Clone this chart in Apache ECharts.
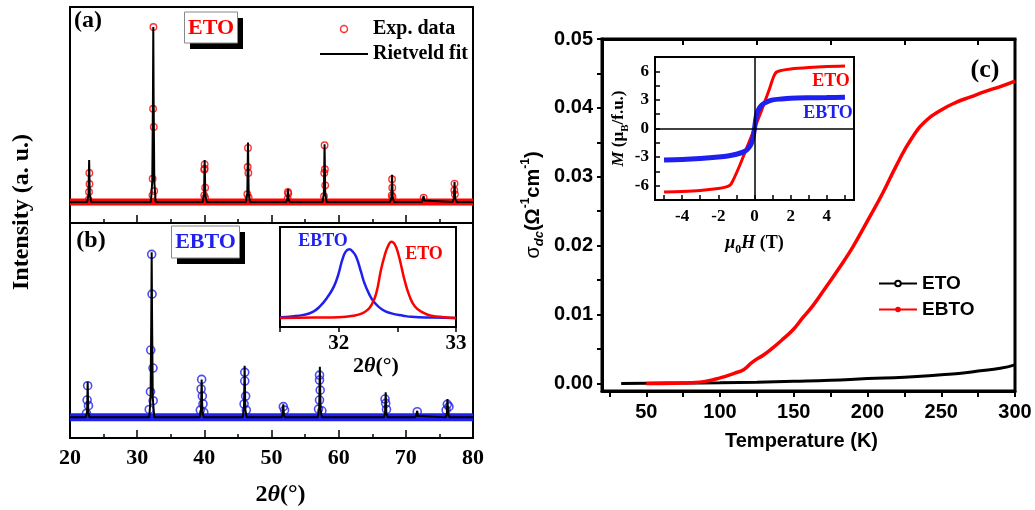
<!DOCTYPE html>
<html><head><meta charset="utf-8">
<script src="https://cdn.jsdelivr.net/npm/echarts@6/dist/echarts.min.js"></script>
<style>html,body{margin:0;padding:0;background:#fff}#c{width:1035px;height:510px}</style>
</head><body><div id="c"></div>
<script>
// ---------- DATA ----------
// Panel (a): ETO XRD (relative intensity, strongest peak = 100)
const xrdA_band = [[20,0],[80,0]];
const xrdA_exp = [
 [22.88,16.6],[22.9,10.3],[22.83,5.7],[22.78,1.3],
 [32.42,100],[32.37,53.3],[32.47,42.9],[32.3,13.3],[32.27,3.8],[32.53,6.3],
 [40.05,21.5],[40.05,19],[39.98,18.5],[40.12,8.2],[39.98,3.8],[40.12,2.5],
 [46.5,30.9],[46.45,20],[46.55,16.6],[46.4,4.4],[46.6,2.5],
 [52.45,5.7],[52.5,4.8],[52.4,1.9],
 [57.9,32.4],[57.95,18.7],[57.85,16.6],[58.0,9.5],[57.82,3.3],
 [67.95,13],[67.98,8.2],[67.9,3.8],[68.02,2.9],
 [72.65,2.5],
 [77.25,10.5],[77.22,6.7],[77.3,4.4]
];
const xrdA_fit = [
 [20,0],
 [22.55,0],[22.75,4],[22.85,24],[22.95,4],[23.15,0],
 [32.05,0],[32.25,12],[32.35,60],[32.4,100],[32.45,60],[32.55,12],[32.75,0],
 [39.75,0],[39.95,4],[40.05,24],[40.15,4],[40.35,0],
 [46.2,0],[46.4,5],[46.5,34],[46.6,5],[46.8,0],
 [52.2,0],[52.35,1.5],[52.45,7.5],[52.55,1.5],[52.7,0],
 [57.6,0],[57.8,5],[57.9,33],[58.0,5],[58.2,0],
 [67.65,0],[67.85,2.5],[67.95,15.5],[68.05,2.5],[68.25,0],
 [72.4,0],[72.55,0.8],[72.65,3.5],[72.75,0.8],[72.9,0],
 [76.95,0],[77.15,2],[77.25,11.5],[77.35,2],[77.55,0],
 [80,0]
];
// Panel (b): EBTO XRD
const xrdB_band = [[20,0],[80,0]];
const xrdB_exp = [
 [22.63,19.2],[22.55,10.5],[22.75,7.1],[22.45,2.4],
 [32.16,98.8],[32.22,74.7],[32.02,40.8],[32.36,29.9],[31.98,15.6],[32.38,10.1],[31.8,4.8],
 [39.6,23],[39.52,17.2],[39.7,12.9],[39.8,8.1],[39.4,4.4],[39.92,3],
 [46.02,27.3],[46.02,22],[46.15,12.9],[45.92,8.1],[46.25,4.4],
 [51.76,6.5],[51.95,4.4],
 [57.15,25.6],[57.15,22.6],[57.25,16.5],[57.15,10.5],[57.0,5],[57.5,4],
 [66.9,11.1],[67.0,8.5],[67.12,4.8],
 [71.7,3.4],
 [76.17,7.9],[76.42,6.5],[76.0,4.4]
];
const xrdB_fit = [
 [20,0],
 [22.35,0],[22.55,3.5],[22.63,21.6],[22.72,3.5],[22.9,0],
 [31.8,0],[32.0,12],[32.1,60],[32.16,100],[32.22,60],[32.32,12],[32.55,0],
 [39.3,0],[39.5,4],[39.6,23],[39.7,4],[39.9,0],
 [45.7,0],[45.9,5],[46.0,31.3],[46.1,5],[46.3,0],
 [51.5,0],[51.65,1.5],[51.75,7.9],[51.85,1.5],[52.0,0],
 [56.9,0],[57.1,5],[57.2,30.7],[57.3,5],[57.5,0],
 [66.75,0],[66.9,2.5],[67.0,15.2],[67.1,2.5],[67.3,0],
 [71.45,0],[71.6,0.8],[71.7,4],[71.8,0.8],[71.95,0],
 [75.95,0],[76.1,2],[76.2,11.1],[76.3,2],[76.5,0],
 [80,0]
];
// Inset of (b): (110) peak
const peak_EBTO = [[31.5,0.01],[31.6,0.02],[31.7,0.04],[31.78,0.08],[31.84,0.15],[31.9,0.26],[31.96,0.41],[32.0,0.58],[32.03,0.75],[32.06,0.86],[32.09,0.89],[32.12,0.86],[32.15,0.79],[32.19,0.6],[32.22,0.45],[32.26,0.31],[32.3,0.21],[32.37,0.11],[32.45,0.06],[32.55,0.03],[32.62,0.015],[32.8,0.005],[33,0]];
const peak_ETO = [[31.5,0],[31.8,0.005],[32.0,0.01],[32.13,0.03],[32.2,0.06],[32.25,0.11],[32.28,0.17],[32.32,0.32],[32.36,0.62],[32.39,0.8],[32.42,0.93],[32.45,0.99],[32.48,0.95],[32.51,0.82],[32.54,0.63],[32.56,0.5],[32.6,0.3],[32.65,0.15],[32.72,0.07],[32.79,0.03],[32.9,0.01],[33,0]];
// Panel (c): dc conductivity vs T
const sigma_ETO = [[33,0],[50,0.00003],[75,0.00006],[100,0.0001],[125,0.00018],[150,0.0003],[175,0.00045],[200,0.0007],[225,0.0009],[250,0.00125],[265,0.0015],[275,0.0018],[290,0.0022],[300,0.0027]];
const sigma_EBTO = [[50,0],[60,0],[70,0.00003],[80,0.0001],[90,0.0003],[100,0.0008],[110,0.0015],[116,0.002],[122,0.0031],[130,0.0042],[136,0.0052],[143,0.0065],[150,0.0079],[156,0.0095],[163,0.0113],[170,0.0134],[180,0.0165],[190,0.0198],[200,0.0236],[210,0.0275],[220,0.0318],[230,0.0356],[240,0.0382],[250,0.0397],[260,0.0408],[270,0.0416],[280,0.0424],[290,0.0431],[300,0.0439]];
// Inset of (c): M(H)
const mh_ETO = [[-5,-6.65],[-4,-6.6],[-3,-6.5],[-2,-6.3],[-1.6,-6.15],[-1.35,-5.95],[-1.2,-5.5],[-0.8,-3.8],[-0.4,-1.9],[0,0],[0.4,1.95],[0.8,4.0],[1.05,5.4],[1.2,5.9],[1.5,6.1],[2,6.25],[3,6.4],[4,6.5],[5,6.55]];
const mh_EBTO = [[-5,-3.3],[-4,-3.25],[-3,-3.15],[-2,-3.0],[-1.4,-2.86],[-1,-2.7],[-0.6,-2.45],[-0.4,-2.2],[-0.2,-1.7],[-0.1,-1.1],[0,0],[0.1,1.3],[0.2,1.9],[0.4,2.45],[0.7,2.8],[1,3.0],[1.5,3.1],[2,3.17],[3,3.22],[4,3.25],[5,3.28]];
// Tick values
const xTicksC = [25,50,75,100,125,150,175,200,225,250,275,300];
const xLabelsC = [50,100,150,200,250,300];
const xTopTicksC = [75,125,175,225,275];
const yLabelsC = [0,0.01,0.02,0.03,0.04,0.05];
const yTicksC = [0,0.005,0.01,0.015,0.02,0.025,0.03,0.035,0.04,0.045,0.05];
const mhXLabels = [-4,-2,0,2,4];
const mhXTicks = [-5,-4,-3,-2,-1,0,1,2,3,4,5];
const mhYLabels = [-6,-3,0,3,6];
const mhYTicks = [-7.5,-6,-4.5,-3,-1.5,0,1.5,3,4.5,6,7.5];

// ---------- STYLE ----------
const SERIF = '"Liberation Serif","Times New Roman",serif';
const SANS = '"Liberation Sans",Arial,sans-serif';
const BLK = '#000';
const serifB = (s) => ({fontFamily:SERIF, fontWeight:'bold', fontSize:s, color:BLK});
const thetaRich = (s) => ({n:serifB(s), i:Object.assign(serifB(s),{fontStyle:'italic'})});

const chart = echarts.init(document.getElementById('c'), null, {renderer:'canvas'});

const gridBase = {show:true, borderColor:BLK, containLabel:false, outerBoundsMode:'none', backgroundColor:'transparent'};

const option = {
  animation:false,
  backgroundColor:'#fff',
  grid:[
    Object.assign({}, gridBase, {left:70, top:7, width:403, height:216, borderWidth:2}),
    Object.assign({}, gridBase, {left:70, top:223, width:403, height:215, borderWidth:2}),
    Object.assign({}, gridBase, {left:280, top:227, width:176, height:100, borderWidth:2}),
    Object.assign({}, gridBase, {left:602, top:39, width:413, height:352, borderWidth:3}),
    Object.assign({}, gridBase, {left:655, top:57, width:199, height:143, borderWidth:2})
  ],
  xAxis:[
    {gridIndex:0, type:'value', min:20, max:80, interval:10,
      axisLine:{onZero:false, lineStyle:{color:BLK,width:2}},
      axisTick:{inside:true, length:8, lineStyle:{color:BLK,width:1.5}},
      minorTick:{show:true, splitNumber:2, length:4, lineStyle:{color:BLK,width:1.5}},
      axisLabel:{show:false}, splitLine:{show:false}, minorSplitLine:{show:false}},
    {gridIndex:1, type:'value', min:20, max:80, interval:10,
      axisLine:{onZero:false, lineStyle:{color:BLK,width:2}},
      axisTick:{inside:true, length:8, lineStyle:{color:BLK,width:1.5}},
      minorTick:{show:true, splitNumber:2, length:4, lineStyle:{color:BLK,width:1.5}},
      axisLabel:Object.assign(serifB(22), {margin:9}), splitLine:{show:false}, minorSplitLine:{show:false},
      name:'{n|2}{i|θ}{n|(°)}', nameLocation:'middle', nameGap:45,
      nameTextStyle:{rich:thetaRich(24), padding:[0,0,0,18]}},
    {gridIndex:2, type:'value', min:31.5, max:33, interval:0.5,
      axisLine:{onZero:false, lineStyle:{color:BLK,width:2}},
      axisTick:{inside:false, length:5, lineStyle:{color:BLK,width:1.5}},
      axisLabel:Object.assign(serifB(21), {margin:6, showMaxLabel:true, formatter:(v)=> (Math.abs(v-Math.round(v))<1e-6 && v>31.9) ? String(Math.round(v)) : ''}),
      splitLine:{show:false},
      name:'{n|2}{i|θ}{n|(°)}', nameLocation:'middle', nameGap:25,
      nameTextStyle:{rich:thetaRich(22), padding:[0,0,0,16]}},
    {gridIndex:3, type:'value', min:20, max:300,
      axisLine:{onZero:false, lineStyle:{color:BLK,width:3}},
      axisTick:{inside:false, length:6, customValues:xTicksC, lineStyle:{color:BLK,width:2}},
      axisLabel:{customValues:xLabelsC, fontFamily:SANS, fontWeight:'bold', fontSize:20, color:BLK, margin:11},
      splitLine:{show:false},
      name:'Temperature (K)', nameLocation:'middle', nameGap:40,
      nameTextStyle:{fontFamily:SANS, fontWeight:'bold', fontSize:20, color:BLK, padding:[0,14,0,0]}},
    {gridIndex:3, type:'value', position:'top', min:20, max:300,
      axisLine:{onZero:false, lineStyle:{color:BLK,width:3}},
      axisTick:{inside:true, length:6, customValues:xTopTicksC, lineStyle:{color:BLK,width:2}},
      axisLabel:{show:false}, splitLine:{show:false}},
    {gridIndex:4, type:'value', min:-5.5, max:5.5,
      axisLine:{onZero:false, lineStyle:{color:BLK,width:2}},
      axisTick:{inside:true, length:5, customValues:mhXTicks, lineStyle:{color:BLK,width:1.5}},
      axisLabel:Object.assign(serifB(17), {customValues:mhXLabels, margin:8}),
      splitLine:{show:false},
      name:'{i|μ}{sub|0}{i|H}{n| (T)}', nameLocation:'middle', nameGap:30,
      nameTextStyle:{rich:{
        n:serifB(18), i:Object.assign(serifB(18),{fontStyle:'italic'}),
        sub:Object.assign(serifB(12),{verticalAlign:'bottom', lineHeight:26})}}}
  ],
  yAxis:[
    {gridIndex:0, type:'value', min:-12, max:111.4, show:false, splitLine:{show:false}},
    {gridIndex:1, type:'value', min:-12.5, max:117.8, show:false, splitLine:{show:false}},
    {gridIndex:2, type:'value', min:-0.117, max:1.18, show:false, splitLine:{show:false}},
    {gridIndex:3, type:'value', min:-0.0011, max:0.05,
      axisLine:{show:true, onZero:false, lineStyle:{color:BLK,width:3}},
      axisTick:{show:true, inside:false, length:5, customValues:yTicksC, lineStyle:{color:BLK,width:2}},
      axisLabel:{customValues:yLabelsC, formatter:(v)=>v.toFixed(2), fontFamily:SANS, fontWeight:'bold', fontSize:20, color:BLK, margin:9},
      splitLine:{show:false},
      name:'{s|σ}{sub|dc}{n|(Ω}{sup|-1}{n|cm}{sup|-1}{n|)}', nameLocation:'middle', nameGap:56,
      nameTextStyle:{padding:[0,0,0,20], rich:{
        s:{fontFamily:SANS, fontSize:20, color:BLK, lineHeight:26},
        n:{fontFamily:SANS, fontWeight:'bold', fontSize:20, color:BLK, lineHeight:26},
        sub:{fontFamily:SANS, fontWeight:'bold', fontStyle:'italic', fontSize:13, color:BLK, verticalAlign:'bottom', lineHeight:26},
        sup:{fontFamily:SANS, fontWeight:'bold', fontSize:12, color:BLK, verticalAlign:'top', lineHeight:26}}}},
    {gridIndex:4, type:'value', min:-7.5, max:7.5,
      axisLine:{show:true, onZero:false, lineStyle:{color:BLK,width:2}},
      axisTick:{show:true, inside:true, length:5, customValues:mhYTicks, lineStyle:{color:BLK,width:1.5}},
      axisLabel:Object.assign(serifB(17), {customValues:mhYLabels, margin:6}),
      splitLine:{show:false},
      name:'{i|M}{n| (μ}{sub|B}{n|/f.u.)}', nameLocation:'middle', nameGap:24,
      nameTextStyle:{rich:{
        n:serifB(17), i:Object.assign(serifB(17),{fontStyle:'italic'}),
        sub:Object.assign(serifB(11),{verticalAlign:'bottom', lineHeight:24})}}}
  ],
  legend:[
    {data:[
        {name:'Exp. data', icon:'circle', itemStyle:{color:'rgba(0,0,0,0)', borderColor:'#f00', borderWidth:1.5}},
        {name:'Rietveld fit', icon:'path://M0,0 L48,0 L48,2 L0,2 Z', itemStyle:{color:BLK, borderWidth:0}}],
      orient:'vertical', left:315, top:14, itemWidth:48, itemHeight:7, itemGap:5, selectedMode:false,
      textStyle:serifB(20)},
    {data:['ETO','EBTO'], orient:'vertical', left:873, top:269, itemWidth:38, itemHeight:7, itemGap:7, selectedMode:false,
      textStyle:{fontFamily:SANS, fontWeight:'bold', fontSize:19, color:BLK}}
  ],
  series:[
    {name:'bandA', type:'line', xAxisIndex:0, yAxisIndex:0, data:xrdA_band, symbol:'none', lineStyle:{color:'#f00', width:7}, silent:true},
    {name:'Exp. data', type:'scatter', xAxisIndex:0, yAxisIndex:0, data:xrdA_exp, symbol:'circle', symbolSize:6.5,
      itemStyle:{color:'rgba(0,0,0,0)', borderColor:'#f00', borderWidth:1.4}},
    {name:'Rietveld fit', type:'line', xAxisIndex:0, yAxisIndex:0, data:xrdA_fit, symbol:'none', lineStyle:{color:BLK, width:2}, itemStyle:{color:BLK}},
    {name:'bandB', type:'line', xAxisIndex:1, yAxisIndex:1, data:xrdB_band, symbol:'none', lineStyle:{color:'#1f1ff0', width:8}, silent:true},
    {name:'expB', type:'scatter', xAxisIndex:1, yAxisIndex:1, data:xrdB_exp, symbol:'circle', symbolSize:8,
      itemStyle:{color:'rgba(0,0,0,0)', borderColor:'#1f1ff0', borderWidth:1.6}},
    {name:'fitB', type:'line', xAxisIndex:1, yAxisIndex:1, data:xrdB_fit, symbol:'none', lineStyle:{color:BLK, width:2}},
    {name:'ETO', type:'line', xAxisIndex:3, yAxisIndex:3, data:sigma_ETO, symbol:'emptyCircle', symbolSize:4, showSymbol:false, smooth:true,
      lineStyle:{color:BLK, width:3}, itemStyle:{color:BLK}},
    {name:'EBTO', type:'line', xAxisIndex:3, yAxisIndex:3, data:sigma_EBTO, symbol:'circle', symbolSize:4, showSymbol:false, smooth:true,
      lineStyle:{color:'#f00', width:3.5}, itemStyle:{color:'#f00'}},
    {name:'pkEBTO', type:'line', xAxisIndex:2, yAxisIndex:2, data:peak_EBTO, symbol:'none', smooth:true, lineStyle:{color:'#1f1ff0', width:2.5}},
    {name:'pkETO', type:'line', xAxisIndex:2, yAxisIndex:2, data:peak_ETO, symbol:'none', smooth:true, lineStyle:{color:'#f00', width:2.5}},
    {name:'mhETO', type:'line', xAxisIndex:5, yAxisIndex:4, data:mh_ETO, symbol:'none', smooth:0.3, lineStyle:{color:'#f00', width:3},
      markLine:{silent:true, symbol:'none', label:{show:false}, lineStyle:{color:BLK, width:1.5, type:'solid'}, data:[{xAxis:0},{yAxis:0}]}},
    {name:'mhEBTO', type:'line', xAxisIndex:5, yAxisIndex:4, data:mh_EBTO, symbol:'none', smooth:0.3, lineStyle:{color:'#1f1ff0', width:5}}
  ],
  graphic:[
    {type:'text', x:22, y:212, rotation:Math.PI/2, style:{text:'Intensity (a. u.)', font:'bold 24px '+SERIF, fill:BLK, align:'center', verticalAlign:'middle', textAlign:'center', textVerticalAlign:'middle'}},
    {type:'text', x:88, y:21, style:{text:'(a)', font:'bold 24px '+SERIF, fill:BLK, align:'center', verticalAlign:'middle', textAlign:'center', textVerticalAlign:'middle'}},
    {type:'text', x:91, y:241, style:{text:'(b)', font:'bold 24px '+SERIF, fill:BLK, align:'center', verticalAlign:'middle', textAlign:'center', textVerticalAlign:'middle'}},
    {type:'rect', shape:{x:190, y:18, width:53, height:31}, style:{fill:BLK}},
    {type:'rect', shape:{x:184.5, y:12, width:53, height:31}, style:{fill:'#fff', stroke:'#888', lineWidth:1}},
    {type:'text', x:211, y:28, style:{text:'ETO', font:'bold 22px '+SERIF, fill:'#f00', align:'center', verticalAlign:'middle', textAlign:'center', textVerticalAlign:'middle'}},
    {type:'rect', shape:{x:177, y:232, width:68, height:32}, style:{fill:BLK}},
    {type:'rect', shape:{x:171.5, y:226, width:68, height:32}, style:{fill:'#fff', stroke:'#888', lineWidth:1}},
    {type:'text', x:205.5, y:242, style:{text:'EBTO', font:'bold 22px '+SERIF, fill:'#1f1ff0', align:'center', verticalAlign:'middle', textAlign:'center', textVerticalAlign:'middle'}},
    {type:'text', x:323, y:241, style:{text:'EBTO', font:'bold 18px '+SERIF, fill:'#1f1ff0', align:'center', verticalAlign:'middle', textAlign:'center', textVerticalAlign:'middle'}},
    {type:'text', x:424, y:254, style:{text:'ETO', font:'bold 18px '+SERIF, fill:'#f00', align:'center', verticalAlign:'middle', textAlign:'center', textVerticalAlign:'middle'}},
    {type:'text', x:831, y:81, style:{text:'ETO', font:'bold 18px '+SERIF, fill:'#f00', align:'center', verticalAlign:'middle', textAlign:'center', textVerticalAlign:'middle'}},
    {type:'text', x:828, y:113, style:{text:'EBTO', font:'bold 18px '+SERIF, fill:'#1f1ff0', align:'center', verticalAlign:'middle', textAlign:'center', textVerticalAlign:'middle'}},
    {type:'text', x:985, y:70, style:{text:'(c)', font:'bold 26px '+SERIF, fill:BLK, align:'center', verticalAlign:'middle', textAlign:'center', textVerticalAlign:'middle'}}
  ]
};
chart.setOption(option);
</script></body></html>
